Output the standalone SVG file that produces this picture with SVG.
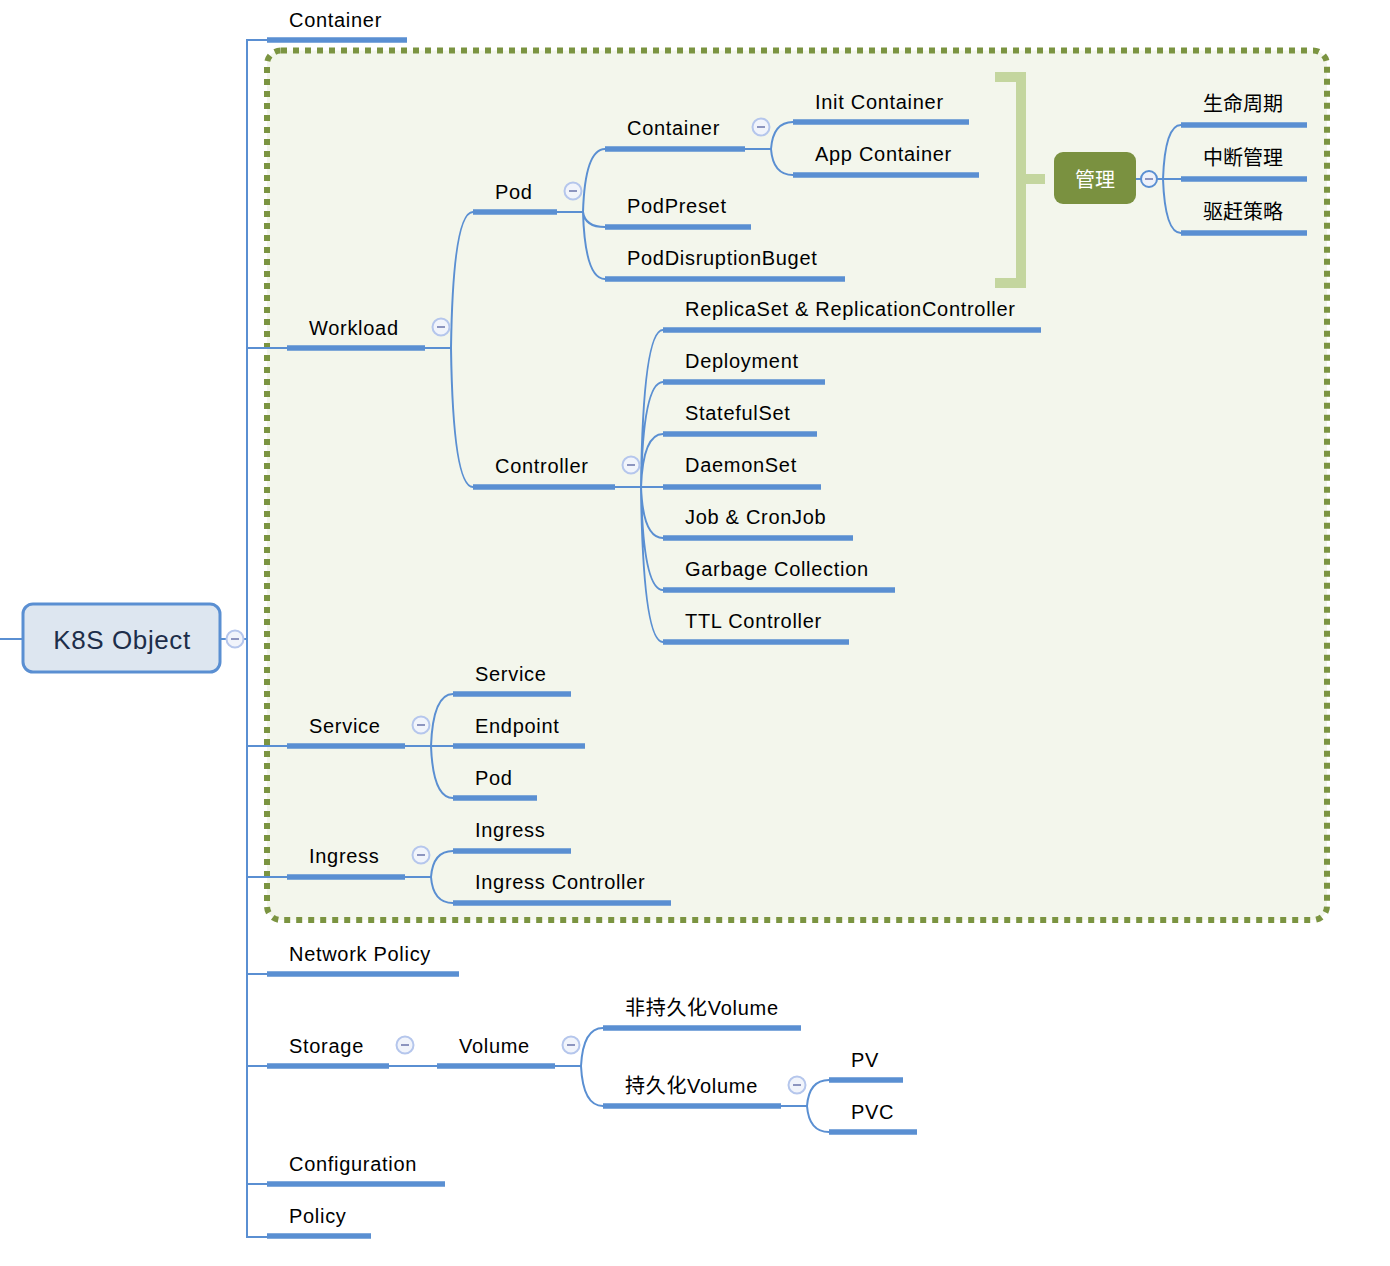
<svg xmlns="http://www.w3.org/2000/svg" xmlns:xlink="http://www.w3.org/1999/xlink" width="1390" height="1266" viewBox="0 0 1390 1266">
<style>
.c{fill:none;stroke:#5a8fd2;stroke-width:2}
.u{fill:none;stroke:#5a8fd2;stroke-width:5.5}
.t{font-family:"Liberation Sans",Arial,"Noto Sans CJK SC",sans-serif;font-size:20px;letter-spacing:0.7px;fill:#000}
.cjk{font-family:"Noto Sans CJK SC","Liberation Sans",sans-serif;font-size:20px;fill:#000}
</style>
<defs>
<g id="minus">
<circle cx="0" cy="0" r="8.5" fill="#f1f4fb" stroke="#b5c6ec" stroke-width="2"/>
<line x1="-4" y1="0" x2="4" y2="0" stroke="#8d95bf" stroke-width="2"/>
</g>
</defs>
<rect width="1390" height="1266" fill="#ffffff"/>
<g id="boundary">
<rect x="267" y="50.5" width="1060" height="869.5" rx="14" fill="#f3f6ec" stroke="#7b9441" stroke-width="6" stroke-dasharray="6 6"/>
<path d="M995 77 H1021 V283 H995 M1021 179 H1045" fill="none" stroke="#c4d69f" stroke-width="10"/>
</g>
<g id="connectors">
<path class="c" d="M0 639 H23 M220 639 H226 M244 639 H247"/>
<path class="c" d="M267 40 H247 V1237 H267 M247 348 H287 M247 746 H287 M247 877 H287 M247 974 H267 M247 1066 H267 M247 1184 H267"/>
<path class="c" d="M425 348 H451 M451 348 Q453 212 473 212 M451 348 Q453 487 473 487"/>
<path class="c" d="M557 212 H583 M583 212 Q585 149 605 149 M583 212 Q585 227 605 227 M583 212 Q585 279 605 279"/>
<path class="c" d="M745 149 H771 M771 149 Q773 122 793 122 M771 149 Q773 175 793 175"/>
<path class="c" d="M615 487 H663 M641 487 Q643 330 663 330 M641 487 Q643 382 663 382 M641 487 Q643 434 663 434 M641 487 Q643 538 663 538 M641 487 Q643 590 663 590 M641 487 Q643 642 663 642"/>
<path class="c" d="M405 746 H453 M431 746 Q433 694 453 694 M431 746 Q433 798 453 798"/>
<path class="c" d="M405 877 H431 M431 877 Q433 851 453 851 M431 877 Q433 903 453 903"/>
<path class="c" d="M389 1066 H437 M555 1066 H581 M581 1066 Q583 1028 603 1028 M581 1066 Q583 1106 603 1106"/>
<path class="c" d="M781 1106 H807 M807 1106 Q809 1080 829 1080 M807 1106 Q809 1132 829 1132"/>
<path class="c" d="M1136 179 H1141 M1157 179 H1181 M1163 179 Q1165 125 1181 125 M1163 179 Q1165 233 1181 233"/>
</g>
<g id="k8s-object">
<rect x="23" y="604" width="197" height="68" rx="10" fill="#dde6f0" stroke="#5a8fd2" stroke-width="3"/>
<text x="122" y="649" text-anchor="middle" font-family="Liberation Sans,Arial,sans-serif" font-size="26" letter-spacing="0.6" fill="#1d2e4a">K8S Object</text>
<use href="#minus" x="235" y="639"/>
</g>
<g id="container-top"><path class="u" d="M267 40 H407"/><text class="t" x="289" y="27">Container</text></g>
<g id="workload"><path class="u" d="M287 348 H425"/><text class="t" x="309" y="335">Workload</text><use href="#minus" x="441" y="327"/></g>
<g id="pod"><path class="u" d="M473 212 H557"/><text class="t" x="495" y="199">Pod</text><use href="#minus" x="573" y="191"/></g>
<g id="pod-container"><path class="u" d="M605 149 H745"/><text class="t" x="627" y="135">Container</text><use href="#minus" x="761" y="127"/></g>
<g id="init-container"><path class="u" d="M793 122 H969"/><text class="t" x="815" y="109">Init Container</text></g>
<g id="app-container"><path class="u" d="M793 175 H979"/><text class="t" x="815" y="161">App Container</text></g>
<g id="podpreset"><path class="u" d="M605 227 H751"/><text class="t" x="627" y="213">PodPreset</text></g>
<g id="pdb"><path class="u" d="M605 279 H845"/><text class="t" x="627" y="265">PodDisruptionBuget</text></g>
<g id="controller"><path class="u" d="M473 487 H615"/><text class="t" x="495" y="473">Controller</text><use href="#minus" x="631" y="465"/></g>
<g id="replicaset"><path class="u" d="M663 330 H1041"/><text class="t" x="685" y="316">ReplicaSet &amp; ReplicationController</text></g>
<g id="deployment"><path class="u" d="M663 382 H825"/><text class="t" x="685" y="368">Deployment</text></g>
<g id="statefulset"><path class="u" d="M663 434 H817"/><text class="t" x="685" y="420">StatefulSet</text></g>
<g id="daemonset"><path class="u" d="M663 487 H821"/><text class="t" x="685" y="472">DaemonSet</text></g>
<g id="job"><path class="u" d="M663 538 H853"/><text class="t" x="685" y="524">Job &amp; CronJob</text></g>
<g id="gc"><path class="u" d="M663 590 H895"/><text class="t" x="685" y="576">Garbage Collection</text></g>
<g id="ttl"><path class="u" d="M663 642 H849"/><text class="t" x="685" y="628">TTL Controller</text></g>
<g id="manage">
<rect x="1054" y="152" width="82" height="52" rx="9" fill="#7a9140"/>
<text x="1095" y="187" text-anchor="middle" font-family="Noto Sans CJK SC,sans-serif" font-size="20" fill="#ffffff">管理</text>
<circle cx="1149" cy="179" r="8" fill="#eef2fa" stroke="#5a8fd2" stroke-width="2"/>
<line x1="1145" y1="179" x2="1153" y2="179" stroke="#8d95bf" stroke-width="2"/>
</g>
<g id="lifecycle"><path class="u" d="M1181 125 H1307"/><text class="cjk" x="1203" y="111">生命周期</text></g>
<g id="disruption"><path class="u" d="M1181 179 H1307"/><text class="cjk" x="1203" y="165">中断管理</text></g>
<g id="eviction"><path class="u" d="M1181 233 H1307"/><text class="cjk" x="1203" y="219">驱赶策略</text></g>
<g id="service"><path class="u" d="M287 746 H405"/><text class="t" x="309" y="733">Service</text><use href="#minus" x="421" y="725"/></g>
<g id="service-service"><path class="u" d="M453 694 H571"/><text class="t" x="475" y="681">Service</text></g>
<g id="endpoint"><path class="u" d="M453 746 H585"/><text class="t" x="475" y="733">Endpoint</text></g>
<g id="service-pod"><path class="u" d="M453 798 H537"/><text class="t" x="475" y="785">Pod</text></g>
<g id="ingress"><path class="u" d="M287 877 H405"/><text class="t" x="309" y="863">Ingress</text><use href="#minus" x="421" y="855"/></g>
<g id="ingress-ingress"><path class="u" d="M453 851 H571"/><text class="t" x="475" y="837">Ingress</text></g>
<g id="ingress-controller"><path class="u" d="M453 903 H671"/><text class="t" x="475" y="889">Ingress Controller</text></g>
<g id="network-policy"><path class="u" d="M267 974 H459"/><text class="t" x="289" y="961">Network Policy</text></g>
<g id="storage"><path class="u" d="M267 1066 H389"/><text class="t" x="289" y="1053">Storage</text><use href="#minus" x="405" y="1045"/></g>
<g id="volume"><path class="u" d="M437 1066 H555"/><text class="t" x="459" y="1053">Volume</text><use href="#minus" x="571" y="1045"/></g>
<g id="nonpersistent"><path class="u" d="M603 1028 H801"/><text class="t" x="625" y="1015">非持久化Volume</text></g>
<g id="persistent"><path class="u" d="M603 1106 H781"/><text class="t" x="625" y="1093">持久化Volume</text><use href="#minus" x="797" y="1085"/></g>
<g id="pv"><path class="u" d="M829 1080 H903"/><text class="t" x="851" y="1067">PV</text></g>
<g id="pvc"><path class="u" d="M829 1132 H917"/><text class="t" x="851" y="1119">PVC</text></g>
<g id="configuration"><path class="u" d="M267 1184 H445"/><text class="t" x="289" y="1171">Configuration</text></g>
<g id="policy"><path class="u" d="M267 1236 H371"/><text class="t" x="289" y="1223">Policy</text></g>
</svg>
